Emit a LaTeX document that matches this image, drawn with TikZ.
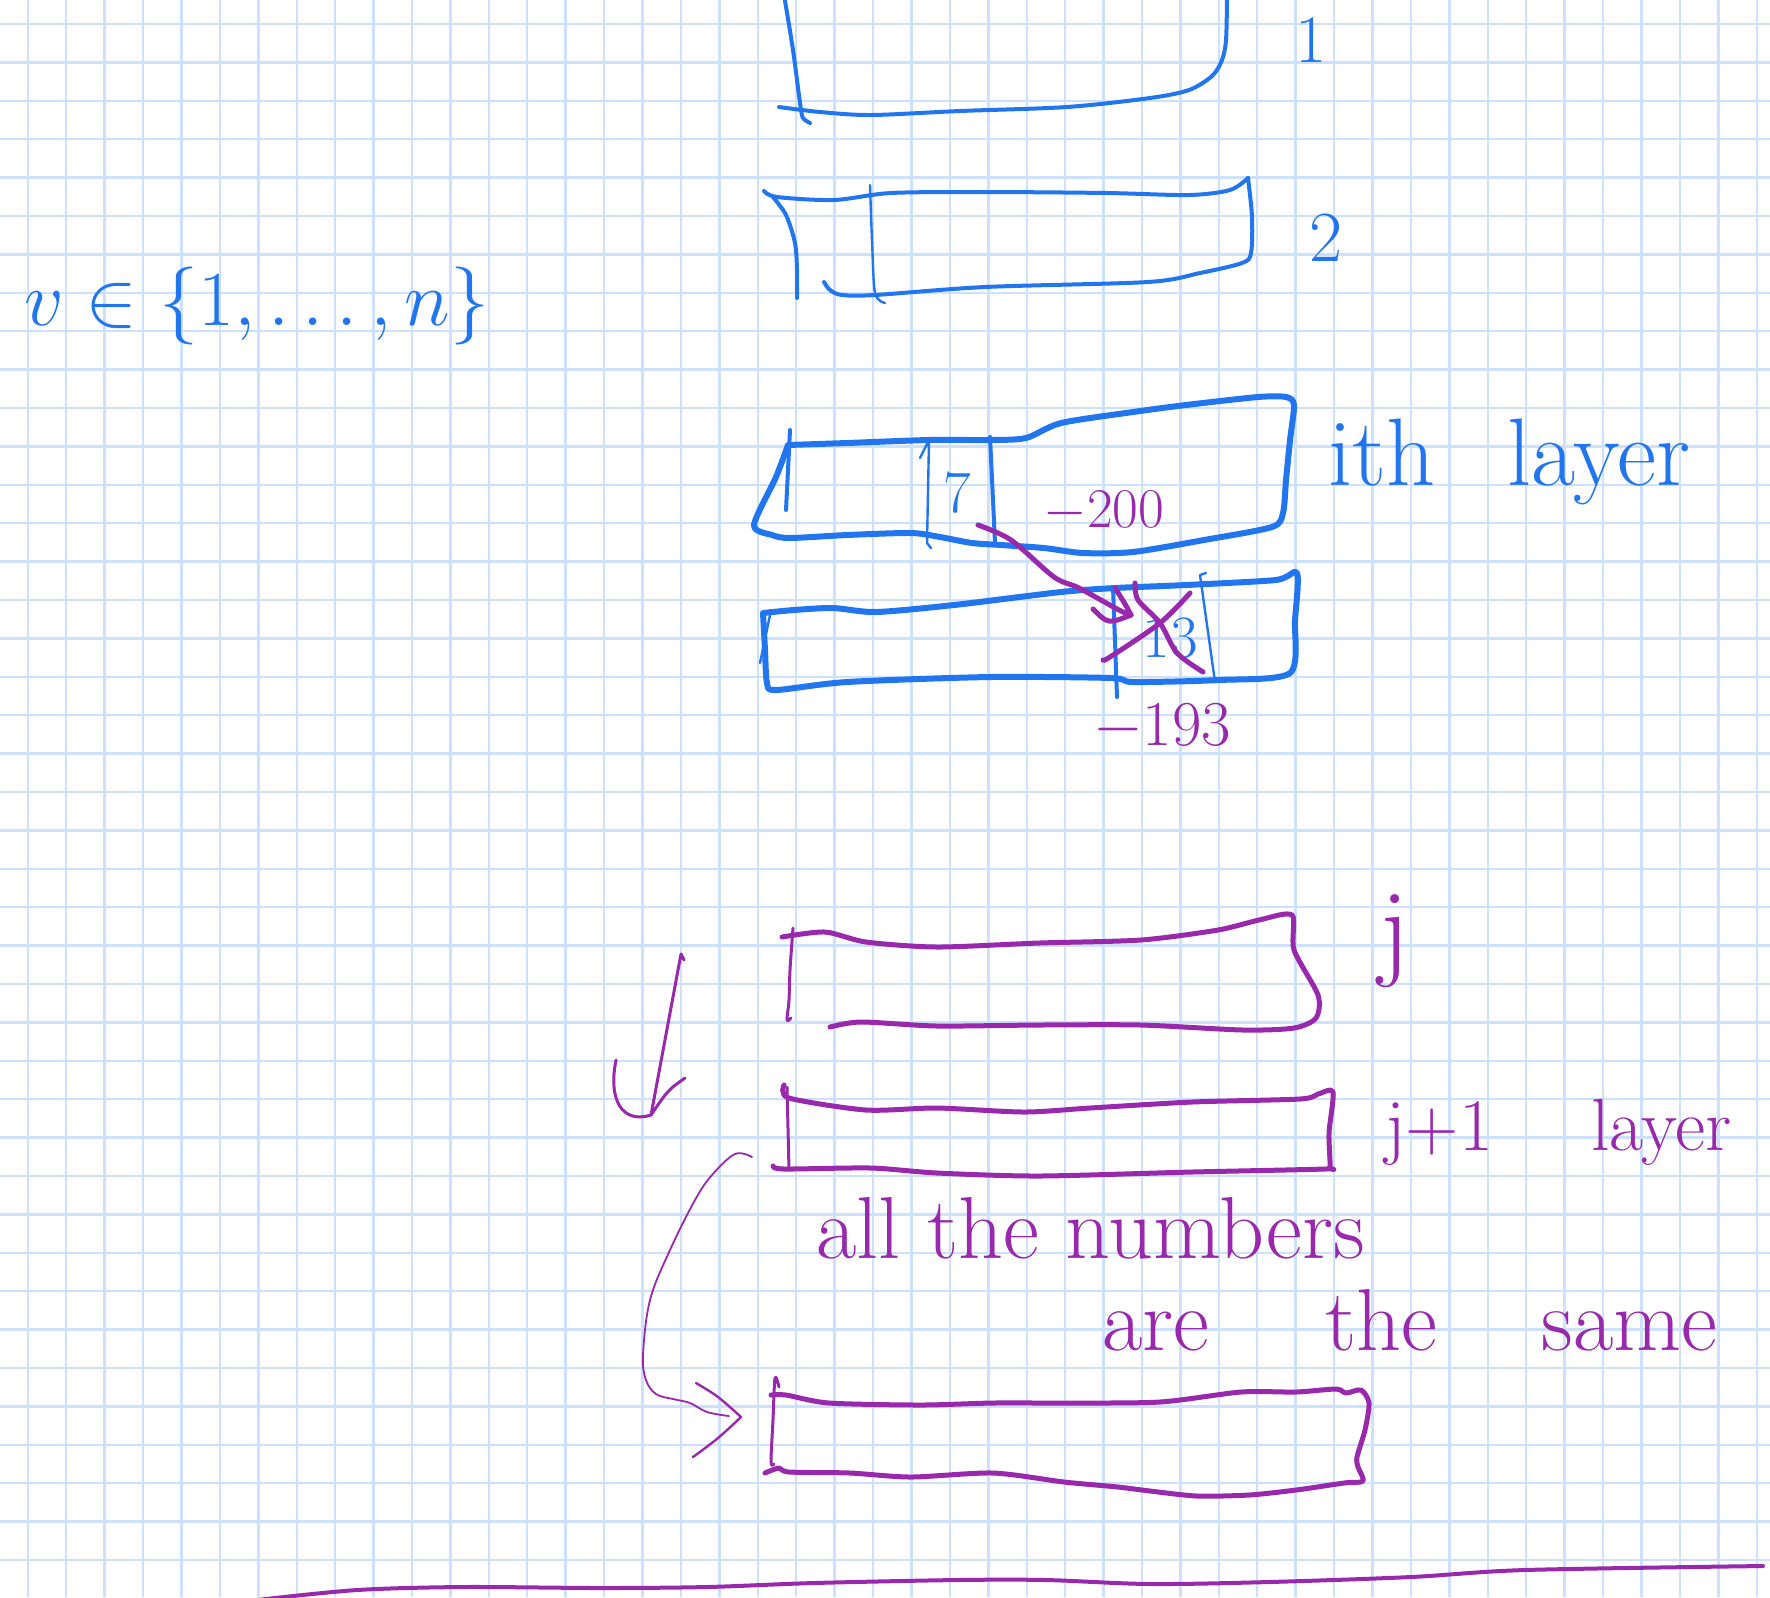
\RequirePackage{fix-cm}
\documentclass[tikz,border=0pt]{standalone}
\definecolor{inkblue}{RGB}{33,118,240}
\definecolor{inkpurple}{RGB}{152,40,172}
\definecolor{gridblue}{RGB}{205,224,252}
\tikzset{
  gridline/.style={draw=gridblue, line width=1.2pt},
  bluethick/.style={draw=inkblue, line width=3pt, line cap=round, line join=round},
  bluemid/.style={draw=inkblue, line width=2pt, line cap=round, line join=round},
  bluethin/.style={draw=inkblue, line width=1.2pt, line cap=round, line join=round},
  purplethick/.style={draw=inkpurple, line width=2.5pt, line cap=round, line join=round},
  purplemid/.style={draw=inkpurple, line width=1.5pt, line cap=round, line join=round},
  purplehair/.style={draw=inkpurple, line width=0.9pt, line cap=round, line join=round},
  bluetext/.style={text=inkblue, inner sep=0pt},
  purpletext/.style={text=inkpurple, inner sep=0pt},
}
\begin{document}
\begin{tikzpicture}[x=0.5pt,y=-0.5pt]
\useasboundingbox (0,0) rectangle (1770,1597);
\fill[white] (0,0) rectangle (1770,1597);
\clip (0,0) rectangle (1770,1597);
% grid paper
\foreach \i in {0,...,45} \draw[gridline] ({27.8+38.42*\i},0) -- ({27.8+38.42*\i},1597);
\foreach \j in {0,...,40} \draw[gridline] (0,{24+38.4*\j}) -- (1770,{24+38.4*\j});

% ---------- text v in {1..n}
\node[bluetext, font=\fontsize{39}{44}\selectfont, anchor=base west] (vset) at (24,325) {$v\in\{1,\ldots,n\}$};

% ---------- layer 1
\draw[bluemid] plot[smooth, tension=0.5] coordinates {(784,-5) (793,50) (801,110) (804,119) (810,123)};
\draw[bluemid] plot[smooth, tension=0.5] coordinates {(779,107) (820,112) (871,115) (960,111) (1067,107) (1150,98) (1189,90) (1212,76) (1222,60) (1226,40) (1227,0) (1227,-5)};
\node[bluetext, font=\fontsize{34}{40}\selectfont] (lab1) at (1311,40) {1};

% ---------- layer 2
\draw[bluemid] plot[smooth, tension=0.5] coordinates {(764,191) (777,197) (834,200) (891,193) (985,192) (1107,193) (1189,195) (1230,190) (1248,178)};
\draw[bluemid] plot[smooth, tension=0.5] coordinates {(1248,178) (1252,217) (1251,253) (1242,263) (1200,273) (1148,282) (985,287) (875,295) (842,295) (830,290) (824,282)};
\draw[bluemid] plot[smooth, tension=0.5] coordinates {(773,197) (786,215) (795,243) (797,270) (797,298)};
\draw[bluethin] plot[smooth, tension=0.5] coordinates {(870,185) (872,240) (875,293) (885,303)};
\node[bluetext, font=\fontsize{36}{40}\selectfont] (lab2) at (1326,238) {2};

% ---------- i-th layer
\draw[bluethick] plot[smooth, tension=0.45] coordinates {(788,445) (847,443) (929,440) (990,440) (1026,438) (1061,423) (1133,412) (1186,405) (1258,397) (1286,397) (1294,405) (1290,440) (1286,480) (1283,513) (1272,527) (1204,540) (1133,552) (1083,553) (1044,548) (1001,545) (972,543) (940,537) (911,533) (847,535) (790,538) (772,535) (754,525) (776,477) (788,445)};
\draw[bluemid] (790,430) -- (786,510);
\draw[bluethin] (920,458) -- (929,440) -- (927,543) -- (931,548);
\draw[bluemid] (990,437) -- (995,543);
\node[bluetext, font=\fontsize{30}{34}\selectfont] (seven) at (957,493) {7};
\node[bluetext, font=\fontsize{48}{52}\selectfont, anchor=base west] (ith) at (1328,485) {ith\hspace{36pt}layer};
\node[purpletext, font=\fontsize{28}{32}\selectfont] (m200) at (1104,512) {$-200$};

% ---------- (i+1)-th layer
\draw[bluethick] plot[smooth, tension=0.45] coordinates {(763,613) (794,610) (833,608) (876,612) (954,605) (1061,592) (1115,588) (1186,585) (1276,580) (1297,573) (1295,620) (1290,673) (1219,680) (1133,682) (1111,678) (990,677) (847,682) (776,690) (767,683) (765,650) (763,613)};
\draw[bluethin] (770,615) -- (760,663);
\draw[bluemid] (1113,587) -- (1117,697);
\draw[bluethin] (1206,573) -- (1200,575) -- (1215,682);
\node[bluetext, font=\fontsize{30}{36}\selectfont] (thirteen) at (1170,638) {13};
% crossing out
\draw[purplethick] plot[smooth, tension=0.5] coordinates {(1103,660) (1110,657) (1160,623) (1190,593)};
\draw[purplethick] plot[smooth, tension=0.5] coordinates {(1135,583) (1138,600) (1160,623) (1177,653) (1203,672)};
\node[purpletext, font=\fontsize{32}{36}\selectfont] (m193) at (1162,728) {$-193$};

% arrow from the 7 cell to the 13 cell
\coordinate (a7) at (978,525);
\coordinate (a13) at (1131,615);
\draw[purplethick] plot[smooth, tension=0.5] coordinates {(a7) (1011,540) (1054,577) (1079,588) (1119,610) (a13)};
\draw[purplethick] (1115,588) .. controls (1124,602) .. (a13);
\draw[purplethick] (1093,609) .. controls (1108,624) .. (a13);

% ---------- layer j
\draw[purplethick] plot[smooth, tension=0.45] coordinates {(782,937) (825,932) (866,942) (937,947) (1039,943) (1141,940) (1218,930) (1259,920) (1292,915) (1294,950) (1318,995) (1316,1018) (1294,1028) (1243,1030) (1141,1025) (1039,1025) (937,1026) (861,1022) (830,1027)};
\draw[purplemid] plot[smooth, tension=0.5] coordinates {(793,928) (790,970) (789,1000) (787,1020) (791,1018)};
\node[purpletext, font=\fontsize{55}{60}\selectfont] (jlab) at (1395,941) {j};

% ---------- layer j+1
\draw[purplethick] plot[smooth, tension=0.45] coordinates {(784,1085) (789,1098) (866,1110) (937,1108) (1024,1112) (1090,1108) (1192,1102) (1300,1099) (1318,1094) (1333,1092) (1329,1133) (1330,1167) (1325,1169) (1192,1172) (1039,1176) (937,1173) (871,1168) (784,1169) (773,1166)};
\draw[purplemid] (787,1087) -- (789,1170);
\node[purpletext, font=\fontsize{37}{42}\selectfont, anchor=base west] (j1lab) at (1385,1150) {j+1\hspace{49pt}layer};

% down arrow
\coordinate (dtop) at (681,954);
\coordinate (dbot) at (651,1115);
\draw[purplemid] (684,960) -- (dtop) -- (dbot);
\draw[purplemid] (616,1060) .. controls (608,1100) and (622,1124) .. (dbot);
\draw[purplemid] (685,1078) .. controls (668,1090) .. (dbot);

% note
\node[purpletext, font=\fontsize{44}{48}\selectfont, anchor=base west] (allnum) at (816,1258) {all the numbers};
\node[purpletext, font=\fontsize{44}{48}\selectfont, anchor=base west] (same) at (1102,1350) {are\hspace{58pt}the\hspace{52pt}same};

% curved arrow to the last layer
\coordinate (cstart) at (752,1157);
\coordinate (cend) at (729,1416);
\coordinate (chead) at (741,1417);
\draw[purplehair] plot[smooth, tension=0.6] coordinates {(cstart) (735,1154) (712,1175) (695,1200) (670,1250) (650,1300) (643,1355) (646,1380) (656,1394) (673,1399) (690,1403) (707,1412) (cend)};
\draw[purplehair, line width=1.2pt] plot[smooth, tension=0.6] coordinates {(696,1383) (718,1397) (chead)};
\draw[purplehair, line width=1.2pt] plot[smooth, tension=0.6] coordinates {(chead) (718,1438) (693,1457)};

% ---------- last layer
\draw[purplethick] plot[smooth, tension=0.45] coordinates {(771,1395) (786,1395) (829,1403) (921,1405) (993,1403) (1064,1403) (1160,1402) (1241,1392) (1296,1392) (1336,1389) (1346,1393) (1361,1390) (1369,1403) (1365,1430) (1357,1457) (1358,1467) (1363,1481) (1344,1483) (1296,1490) (1249,1495) (1197,1496) (1150,1491) (1118,1487) (1064,1482) (993,1473) (911,1477) (850,1473) (789,1472) (779,1468) (765,1473)};
\draw[purplemid] plot[smooth, tension=0.5] coordinates {(779,1387) (775,1378) (773,1420) (771,1462) (774,1464)};

% bottom line
\draw[purplemid, line width=2pt] plot[smooth, tension=0.5] coordinates {(257,1600) (357,1590) (464,1587) (600,1588) (707,1587) (814,1583) (957,1580) (1046,1580) (1150,1584) (1269,1582) (1411,1577) (1525,1570) (1763,1566)};
\end{tikzpicture}
\end{document}
